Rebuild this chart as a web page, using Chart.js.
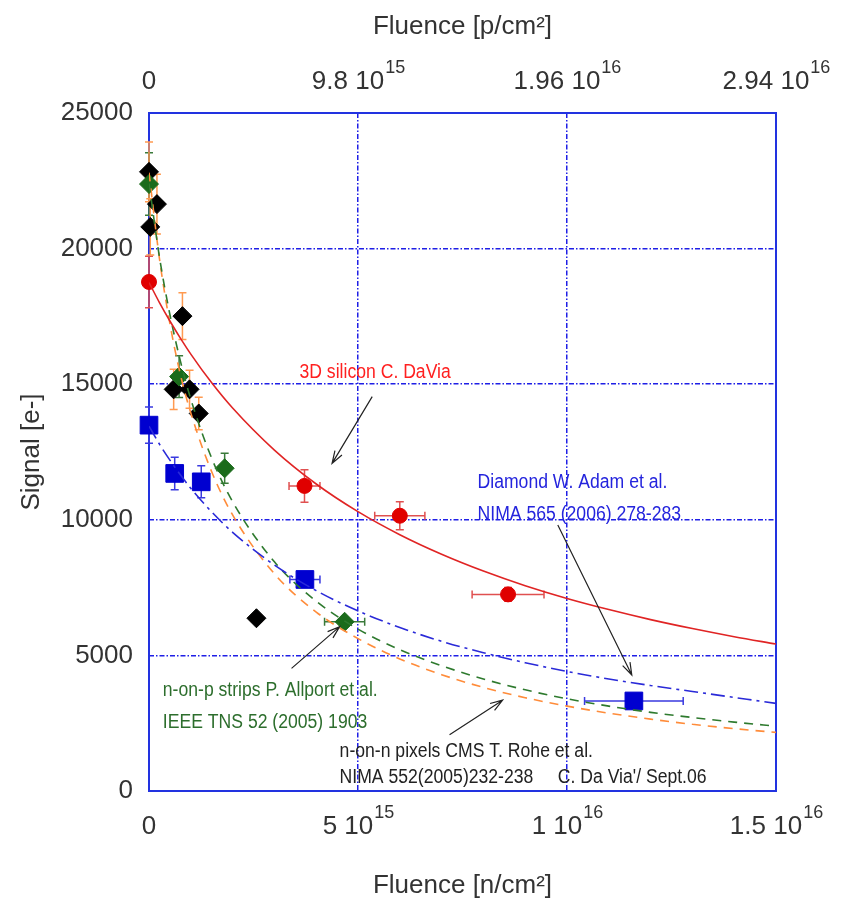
<!DOCTYPE html>
<html>
<head>
<meta charset="utf-8">
<script src="https://cdn.jsdelivr.net/npm/chart.js@4.4.1/dist/chart.umd.min.js"></script>
<style>
  html, body { margin: 0; padding: 0; background: #fff; }
  canvas { display: block; }
</style>
</head>
<body>
<canvas id="c" width="845" height="901"></canvas>
<script>
// ---------- data ----------
// 3D silicon (red circles)
const redX    = [0, 3.72e15, 6.0e15, 8.59e15];
const redY    = [18770, 11250, 10150, 7250];
const redXErr = [0, 3.7e14, 6.0e14, 8.6e14];
const redYErr = [950, 600, 520, 250];

// Diamond (blue squares)
const blueX    = [0, 6.15e14, 1.25e15, 3.73e15, 1.16e16];
const blueY    = [13490, 11710, 11400, 7800, 3320];
const blueXErr = [0, 0, 0, 3.6e14, 1.18e15];
const blueYErr = [670, 600, 590, 220, 0];

// n-on-p strips (green diamonds)
const greenX    = [0, 7.2e14, 1.81e15, 4.68e15];
const greenY    = [22380, 15280, 11900, 6240];
const greenXErr = [0, 0, 0, 4.8e14];
const greenYErr = [1150, 770, 550, 150];

// n-on-n pixels (black diamonds, orange error bars)
const blackX    = [0, 1.9e14, 3e13, 8e14, 5.9e14, 9.7e14, 1.19e15, 2.57e15];
const blackY    = [22830, 21640, 20800, 17510, 14810, 14810, 13920, 6370];
const blackXErr = [0, 0, 0, 0, 0, 0, 0, 1.2e14];
const blackYErr = [1100, 1100, 1040, 860, 740, 700, 600, 150];

// fitted curves, read at these fluences
const fitX     = [0, 2.5e14, 5e14, 7.5e14, 1e15, 1.5e15, 2e15, 3e15, 4e15, 5e15, 6e15, 7e15, 8e15, 9e15, 1e16, 1.1e16, 1.2e16, 1.3e16, 1.4e16, 1.5e16];
const redFit   = [18750, 18010, 17330, 16700, 16110, 15050, 14120, 12570, 11320, 10300, 9450, 8730, 8110, 7570, 7100, 6690, 6320, 5990, 5690, 5420];
const blueFit  = [13450, 12790, 12200, 11660, 11160, 10290, 9540, 8330, 7390, 6640, 6030, 5520, 5100, 4730, 4410, 4130, 3890, 3670, 3450, 3230];
const greenFit = [22400, 19690, 17570, 15860, 14450, 12270, 10670, 8450, 7000, 5970, 5210, 4620, 4130, 3730, 3400, 3130, 2900, 2710, 2540, 2390];
const orangeFit= [22800, 19630, 17230, 15360, 13940, 11770, 10180, 8010, 6600, 5620, 4870, 4290, 3820, 3440, 3130, 2870, 2650, 2460, 2300, 2160];

// ticks
const yTickStep = 5000;
const bottomTickValues = [0, 5e15, 1e16, 1.5e16];
const bottomTickBase   = ['0', '5 10', '1 10', '1.5 10'];
const bottomTickSup    = ['', '15', '16', '16'];
const topTickValues    = [0, 9.8e15, 1.96e16, 2.94e16];
const topTickBase      = ['0', '9.8 10', '1.96 10', '2.94 10'];
const topTickSup       = ['', '15', '16', '16'];

// annotations (text and arrows, in data coordinates)
const notes = [
  { lines: ['3D silicon C. DaVia'], x: 3.6e15, y: [15420], color: '#ff2020' },
  { lines: ['Diamond W. Adam et al.', 'NIMA 565 (2006) 278-283'], x: 7.86e15, y: [11360, 10180], color: '#2424dd' },
  { lines: ['n-on-p strips P. Allport et al.', 'IEEE TNS 52 (2005) 1903'], x: 3.3e14, y: [3720, 2540], color: '#2d6e2d' },
  { lines: ['n-on-n pixels CMS T. Rohe et al.', "NIMA 552(2005)232-238     C. Da Via'/ Sept.06"], x: 4.56e15, y: [1450, 480], color: '#222222' }
];
const arrows = [
  { from: [5.34e15, 14540], to: [4.38e15, 12080] },
  { from: [9.78e15, 9810],  to: [1.155e16, 4280] },
  { from: [3.41e15, 4520],  to: [4.56e15, 6060] },
  { from: [7.19e15, 2070],  to: [8.46e15, 3350] }
];

// ---------- styling ----------
const FAM = "'Liberation Sans', Arial, sans-serif";
const GRID = '#1f1fe6';
const TXT = '#333333';

const pts = (xs, ys) => xs.map((v, i) => ({ x: v, y: ys[i] }));

const fitStyle = (data, color, dash) => ({
  data: pts(fitX, data), showLine: true, pointRadius: 0, borderColor: color,
  borderWidth: 1.6, borderDash: dash, cubicInterpolationMode: 'monotone', fill: false
});
const markStyle = (xs, ys, color, style, r) => ({
  data: pts(xs, ys), showLine: false, pointStyle: style, pointRadius: r,
  backgroundColor: color, borderColor: color, borderWidth: 1, clip: false
});

const datasets = [
  fitStyle(redFit, '#e02424', []),
  fitStyle(blueFit, '#2a2ad8', [14, 5, 3, 5]),
  fitStyle(greenFit, '#2e7a2e', [9, 7]),
  fitStyle(orangeFit, '#ff8c3a', [9, 7]),
  markStyle(redX, redY, '#e00000', 'circle', 7.5),
  markStyle(blueX, blueY, '#0000d0', 'rect', 12.5),
  markStyle(greenX, greenY, '#1b6b1b', 'rectRot', 9.5),
  markStyle(blackX, blackY, '#000000', 'rectRot', 9.5)
];

const errSeries = [
  { x: redX, y: redY, xe: redXErr, ye: redYErr, color: '#e05050' },
  { x: blueX, y: blueY, xe: blueXErr, ye: blueYErr, color: '#3a3ae0' },
  { x: greenX, y: greenY, xe: greenXErr, ye: greenYErr, color: '#3a7a3a' },
  { x: blackX, y: blackY, xe: blackXErr, ye: blackYErr, color: '#ff9a50' }
];

// ---------- plugins ----------
const framePlugin = {
  id: 'frame',
  beforeDatasetsDraw(chart) {
    const { ctx, chartArea: a } = chart;
    ctx.save();
    ctx.strokeStyle = '#2233e0';
    ctx.lineWidth = 2;
    ctx.strokeRect(a.left, a.top, a.right - a.left, a.bottom - a.top);
    ctx.restore();
  }
};

const errorPlugin = {
  id: 'errorBars',
  beforeDatasetsDraw(chart) {
    const { ctx } = chart;
    const sx = chart.scales.x, sy = chart.scales.y;
    errSeries.forEach(s => {
      ctx.save();
      ctx.strokeStyle = s.color;
      ctx.lineWidth = 1.5;
      s.x.forEach((xv, i) => {
        const px = sx.getPixelForValue(xv), py = sy.getPixelForValue(s.y[i]);
        ctx.beginPath();
        if (s.ye[i]) {
          const y1 = sy.getPixelForValue(s.y[i] + s.ye[i]);
          const y2 = sy.getPixelForValue(s.y[i] - s.ye[i]);
          ctx.moveTo(px, y1); ctx.lineTo(px, y2);
          ctx.moveTo(px - 4, y1); ctx.lineTo(px + 4, y1);
          ctx.moveTo(px - 4, y2); ctx.lineTo(px + 4, y2);
        }
        if (s.xe[i]) {
          const x1 = sx.getPixelForValue(xv - s.xe[i]);
          const x2 = sx.getPixelForValue(xv + s.xe[i]);
          ctx.moveTo(x1, py); ctx.lineTo(x2, py);
          ctx.moveTo(x1, py - 4); ctx.lineTo(x1, py + 4);
          ctx.moveTo(x2, py - 4); ctx.lineTo(x2, py + 4);
        }
        ctx.stroke();
      });
      ctx.restore();
    });
  }
};

function supLabel(ctx, x, y, base, sup) {
  ctx.font = '26px ' + FAM;
  const w1 = ctx.measureText(base).width;
  ctx.font = '18px ' + FAM;
  const w2 = sup ? ctx.measureText(sup).width : 0;
  const start = x - (w1 + w2) / 2;
  ctx.textAlign = 'left';
  ctx.textBaseline = 'middle';
  ctx.fillStyle = TXT;
  ctx.font = '26px ' + FAM;
  ctx.fillText(base, start, y);
  if (sup) {
    ctx.font = '18px ' + FAM;
    ctx.fillText(sup, start + w1 + 1, y - 14);
  }
}

const tickLabelPlugin = {
  id: 'tickLabels',
  afterDraw(chart) {
    const { ctx } = chart;
    const sx = chart.scales.x, st = chart.scales.x2;
    ctx.save();
    bottomTickValues.forEach((v, i) => supLabel(ctx, sx.getPixelForValue(v), sx.top + 36, bottomTickBase[i], bottomTickSup[i]));
    topTickValues.forEach((v, i) => supLabel(ctx, st.getPixelForValue(v), st.bottom - 31, topTickBase[i], topTickSup[i]));
    ctx.restore();
  }
};

function arrow(ctx, x1, y1, x2, y2) {
  const ang = Math.atan2(y2 - y1, x2 - x1);
  const L = 13, w = 0.32;
  ctx.beginPath();
  ctx.moveTo(x1, y1); ctx.lineTo(x2, y2);
  ctx.moveTo(x2 - L * Math.cos(ang - w), y2 - L * Math.sin(ang - w));
  ctx.lineTo(x2, y2);
  ctx.lineTo(x2 - L * Math.cos(ang + w), y2 - L * Math.sin(ang + w));
  ctx.stroke();
}

const notePlugin = {
  id: 'notes',
  afterDatasetsDraw(chart) {
    const { ctx } = chart;
    const sx = chart.scales.x, sy = chart.scales.y;
    ctx.save();
    ctx.strokeStyle = '#222';
    ctx.lineWidth = 1.2;
    arrows.forEach(a => arrow(ctx, sx.getPixelForValue(a.from[0]), sy.getPixelForValue(a.from[1]),
                                   sx.getPixelForValue(a.to[0]), sy.getPixelForValue(a.to[1])));
    ctx.font = '20px ' + FAM;
    ctx.textAlign = 'left';
    ctx.textBaseline = 'middle';
    notes.forEach(n => {
      ctx.fillStyle = n.color;
      n.lines.forEach((t, i) => {
        ctx.save();
        ctx.translate(sx.getPixelForValue(n.x), sy.getPixelForValue(n.y[i]));
        ctx.scale(0.88, 1);
        ctx.fillText(t, 0, 0);
        ctx.restore();
      });
    });
    ctx.restore();
  }
};

// ---------- chart ----------
new Chart(document.getElementById('c'), {
  type: 'scatter',
  data: { datasets },
  options: {
    responsive: false,
    devicePixelRatio: 1,
    animation: false,
    layout: { padding: { left: 0, right: 69, top: 0, bottom: 0 } },
    plugins: { legend: { display: false }, tooltip: { enabled: false } },
    scales: {
      x: {
        type: 'linear', position: 'bottom', min: 0, max: 1.5e16,
        afterBuildTicks: s => { s.ticks = bottomTickValues.map(v => ({ value: v })); },
        afterFit: s => { s.height = 110; },
        ticks: { display: false },
        grid: { color: GRID, lineWidth: 1.5, drawTicks: false },
        border: { display: false, dash: [5, 2, 1.5, 2] },
        title: { display: true, text: 'Fluence [n/cm²]', color: TXT, font: { size: 26, family: FAM }, padding: { top: 2, bottom: 0 } }
      },
      x2: {
        type: 'linear', position: 'top', min: 0, max: 2.94e16,
        afterBuildTicks: s => { s.ticks = topTickValues.map(v => ({ value: v })); },
        afterFit: s => { s.height = 113; },
        ticks: { display: false },
        grid: { display: false },
        border: { display: false },
        title: { display: true, text: 'Fluence [p/cm²]', color: TXT, font: { size: 26, family: FAM }, padding: { top: 11, bottom: 0 } }
      },
      y: {
        type: 'linear', position: 'left', min: 0, max: 25000,
        afterFit: s => { s.width = 149; },
        ticks: { stepSize: yTickStep, color: TXT, font: { size: 26, family: FAM }, padding: 16, callback: v => String(v) },
        grid: { color: GRID, lineWidth: 1.5, drawTicks: false },
        border: { display: false, dash: [5, 2, 1.5, 2] },
        title: { display: true, text: 'Signal [e-]', color: TXT, font: { size: 26, family: FAM }, padding: { top: 16, bottom: 0 } }
      }
    }
  },
  plugins: [framePlugin, errorPlugin, tickLabelPlugin, notePlugin]
});
</script>
</body>
</html>
